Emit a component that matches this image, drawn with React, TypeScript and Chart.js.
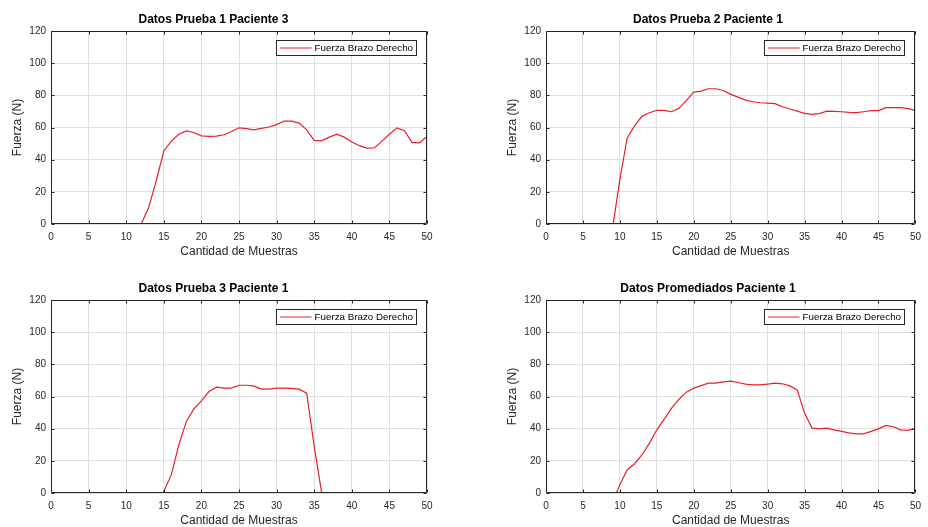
import React, { useEffect, useRef } from "react";
import { Chart, registerables } from "chart.js";
Chart.register(...registerables);

const titulos = [
  "Datos Prueba 1 Paciente 3",
  "Datos Prueba 2 Paciente 1",
  "Datos Prueba 3 Paciente 1",
  "Datos Promediados Paciente 1",
];
const etiquetaX = "Cantidad de Muestras";
const etiquetaY = "Fuerza (N)";
const etiquetaSerie = "Fuerza Brazo Derecho";

const muestras1 = [12, 13, 14, 15, 16, 17, 18, 19, 20, 21, 22, 23, 24, 25, 26, 27, 28, 29, 30, 31, 32, 33, 34, 35, 36, 37, 38, 39, 40, 41, 42, 43, 44, 45, 46, 47, 48, 49, 50];
const fuerza1 = [0, 10.4, 27, 45.4, 51.5, 55.8, 57.9, 56.9, 54.8, 54.5, 54.6, 55.5, 57.5, 59.8, 59.3, 58.5, 59.5, 60.3, 61.8, 64, 64, 62.7, 58.5, 52, 51.7, 54, 55.8, 54, 51, 48.7, 47.2, 47.3, 51.5, 55.8, 59.8, 58, 50.8, 50.5, 54.5];

const muestras2 = [9, 10, 11, 12, 13, 14, 15, 16, 17, 18, 19, 20, 21, 22, 23, 24, 25, 26, 27, 28, 29, 30, 31, 32, 33, 34, 35, 36, 37, 38, 39, 40, 41, 42, 43, 44, 45, 46, 47, 48, 49, 50];
const fuerza2 = [-3, 27.9, 53.7, 61, 67.1, 69.2, 70.7, 70.7, 69.8, 71.9, 76.9, 82, 82.6, 84.1, 84.1, 83, 80.6, 78.9, 77, 76, 75.4, 75.2, 74.8, 72.9, 71.5, 70.2, 68.8, 68.2, 68.6, 70.2, 70, 69.8, 69.4, 69.2, 69.8, 70.5, 70.5, 72.3, 72.3, 72.3, 71.7, 70.7];

const muestras3 = [14, 15, 16, 17, 18, 19, 20, 21, 22, 23, 24, 25, 26, 27, 28, 29, 30, 31, 32, 33, 34, 35, 36];
const fuerza3 = [-6, 1, 11.4, 30, 44.5, 52.3, 57.3, 63.1, 65.8, 65.2, 65.2, 67, 67, 66.4, 64.6, 64.6, 65.2, 65.2, 65, 64.6, 62.1, 29, 0];

const muestras4 = [9, 10, 11, 12, 13, 14, 15, 16, 17, 18, 19, 20, 21, 22, 23, 24, 25, 26, 27, 28, 29, 30, 31, 32, 33, 34, 35, 36, 37, 38, 39, 40, 41, 42, 43, 44, 45, 46, 47, 48, 49, 50];
const fuerza4 = [-5.5, 5.2, 14.5, 18.2, 23.8, 31, 39.3, 45.9, 52.8, 58.3, 62.7, 65.2, 66.8, 68.3, 68.3, 69.1, 69.5, 68.7, 67.7, 67.2, 67.2, 67.7, 68.3, 67.9, 66.6, 64.1, 49.7, 40.3, 39.9, 40.3, 39.3, 38.3, 37.4, 36.8, 36.8, 38.3, 39.9, 42, 41.2, 39.3, 38.9, 40.3];

const FONT = "'Liberation Sans', Arial, Helvetica, sans-serif";
const AXIS = "#262626";
const GRID = "#dfdfdf";
const LINE = "#e8202c";

const marco = {
  id: "marco",
  afterDraw(chart: any) {
    const { ctx, chartArea: a, scales } = chart;
    ctx.save();
    ctx.strokeStyle = AXIS;
    ctx.lineWidth = 1;
    const L = Math.round(a.left) + 0.5;
    const R = Math.round(a.right) - 0.5;
    const T = Math.round(a.top) + 0.5;
    const B = Math.round(a.bottom) - 0.5;
    ctx.beginPath();
    ctx.rect(L, T, R - L, B - T);
    ctx.stroke();
    const tl = 3;
    ctx.beginPath();
    scales.x.ticks.forEach((t: any) => {
      const px = Math.round(scales.x.getPixelForValue(t.value)) + 0.5;
      ctx.moveTo(px, B);
      ctx.lineTo(px, B - tl);
      ctx.moveTo(px, T);
      ctx.lineTo(px, T + tl);
    });
    scales.y.ticks.forEach((t: any) => {
      const py = Math.round(scales.y.getPixelForValue(t.value)) + 0.5;
      ctx.moveTo(L, py);
      ctx.lineTo(L + tl, py);
      ctx.moveTo(R, py);
      ctx.lineTo(R - tl, py);
    });
    ctx.stroke();

    // legend box
    const label = chart.data.datasets[0].label;
    ctx.font = `9.8px ${FONT}`;
    const tw = ctx.measureText(label).width;
    const bw = Math.round(38 + tw + 3);
    const bh = 15;
    const bx = Math.round(a.right - 11 - bw) + 0.5;
    const by = Math.round(a.top + 8.5) + 0.5;
    ctx.fillStyle = "#ffffff";
    ctx.fillRect(bx, by, bw, bh);
    ctx.strokeStyle = AXIS;
    ctx.strokeRect(bx, by, bw, bh);
    ctx.strokeStyle = LINE;
    ctx.beginPath();
    ctx.moveTo(bx + 3.5, by + bh / 2);
    ctx.lineTo(bx + 35, by + bh / 2);
    ctx.stroke();
    ctx.fillStyle = "#000000";
    ctx.textBaseline = "middle";
    ctx.textAlign = "left";
    ctx.fillText(label, bx + 38, by + bh / 2 + 0.5);
    ctx.restore();
  },
};

type PanelProps = {
  titulo: string;
  xs: number[];
  ys: number[];
  left: number;
  top: number;
  padLeft: number;
  padRight: number;
};

function Panel({ titulo, xs, ys, left, top, padLeft, padRight }: PanelProps) {
  const ref = useRef<HTMLCanvasElement>(null);
  useEffect(() => {
    const chart = new Chart(ref.current as HTMLCanvasElement, {
      type: "line",
      data: {
        datasets: [
          {
            label: etiquetaSerie,
            data: xs.map((x, i) => ({ x, y: ys[i] })),
            borderColor: LINE,
            backgroundColor: LINE,
            borderWidth: 1.2,
            pointRadius: 0,
            tension: 0,
            fill: false,
          },
        ],
      },
      options: {
        animation: false,
        responsive: false,
        devicePixelRatio: 1,
        layout: { padding: { left: padLeft, right: padRight, top: 0, bottom: 0 } },
        plugins: {
          legend: { display: false },
          tooltip: { enabled: false },
          title: {
            display: true,
            text: titulo,
            color: "#000000",
            font: { family: FONT, size: 12, weight: "bold", lineHeight: 1.2 },
            padding: { top: 12.8, bottom: 3.8 },
          },
        },
        scales: {
          x: {
            type: "linear",
            min: 0,
            max: 50,
            ticks: {
              stepSize: 5,
              padding: 7,
              maxRotation: 0,
              autoSkip: false,
              color: AXIS,
              font: { family: FONT, size: 10 },
            },
            grid: { color: GRID, drawTicks: false, lineWidth: 1 },
            border: { display: false },
            title: {
              display: true,
              text: etiquetaX,
              color: AXIS,
              font: { family: FONT, size: 12, lineHeight: 1.2 },
              padding: { top: 0, bottom: 3.1 },
            },
            afterFit: (s: any) => {
              s.height = 38;
            },
          },
          y: {
            type: "linear",
            min: 0,
            max: 120,
            ticks: {
              stepSize: 20,
              padding: 5,
              color: AXIS,
              font: { family: FONT, size: 10 },
            },
            grid: { color: GRID, drawTicks: false, lineWidth: 1 },
            border: { display: false },
            title: {
              display: true,
              text: etiquetaY,
              color: AXIS,
              font: { family: FONT, size: 12, lineHeight: 1.2 },
              padding: { top: 10.8, bottom: 0 },
            },
            afterFit: (s: any) => {
              s.width = 51;
            },
          },
        },
      } as any,
      plugins: [marco],
    });
    return () => chart.destroy();
  }, []);
  return (
    <div style={{ position: "absolute", left, top, width: 464, height: 262 }}>
      <canvas ref={ref} width={464} height={262} style={{ display: "block", width: 464, height: 262 }} />
    </div>
  );
}

export default function App() {
  return (
    <div
      style={{
        position: "fixed",
        left: 0,
        top: 0,
        width: 928,
        height: 527,
        overflow: "hidden",
        background: "#ffffff",
      }}
    >
      <Panel titulo={titulos[0]} xs={muestras1} ys={fuerza1} left={0} top={0} padLeft={0} padRight={37} />
      <Panel titulo={titulos[1]} xs={muestras2} ys={fuerza2} left={464} top={0} padLeft={31} padRight={7} />
      <Panel titulo={titulos[2]} xs={muestras3} ys={fuerza3} left={0} top={269} padLeft={0} padRight={37} />
      <Panel titulo={titulos[3]} xs={muestras4} ys={fuerza4} left={464} top={269} padLeft={31} padRight={7} />
    </div>
  );
}
